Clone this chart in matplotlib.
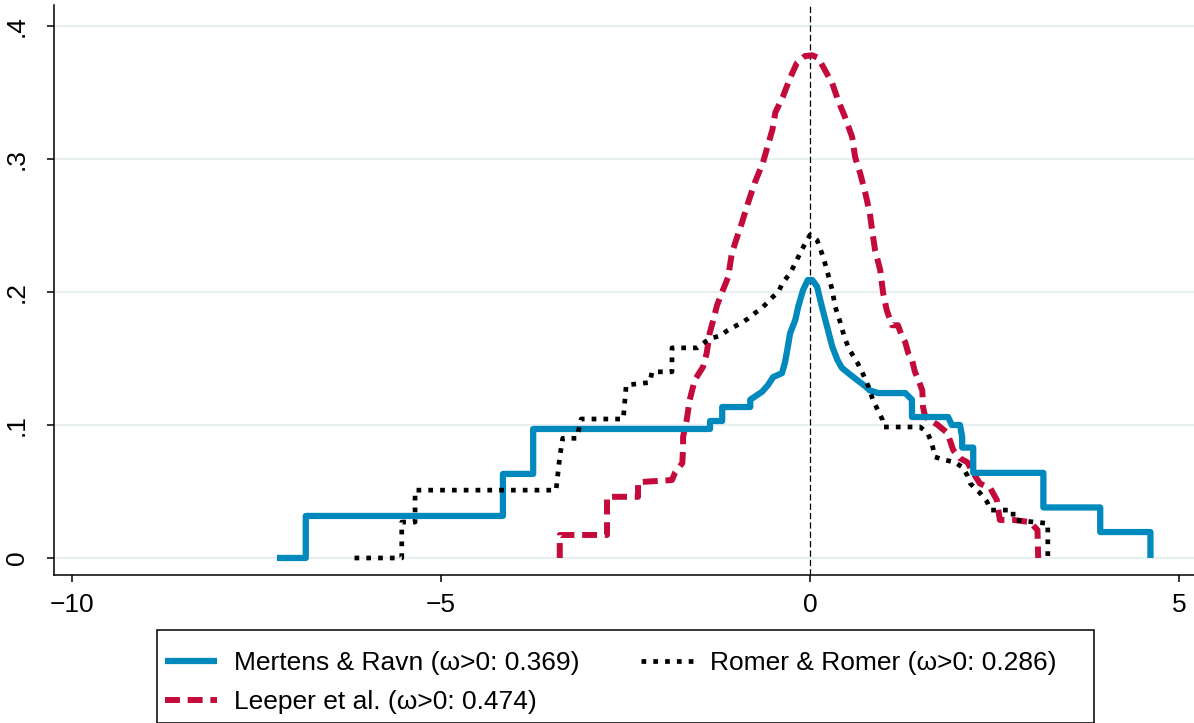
import numpy as np
import matplotlib
matplotlib.use("Agg")
import matplotlib.pyplot as plt
from matplotlib.patches import Rectangle

plt.rcParams['font.family'] = ['Liberation Sans', 'DejaVu Sans']

# Mertens & Ravn (step-like density)
mr_x = [-7.22, -6.83, -6.83, -4.16, -4.16, -3.75, -3.75, -1.355, -1.355, -1.19, -1.19,
        -0.81, -0.81, -0.65, -0.57, -0.50, -0.38, -0.34, -0.31, -0.27, -0.20, -0.16,
        -0.095, -0.03, 0.03, 0.095, 0.16, 0.23, 0.30, 0.37, 0.43, 0.54, 0.68, 0.75,
        0.81, 0.92, 1.29, 1.38, 1.38, 1.87, 1.92, 2.03, 2.06, 2.06, 2.21, 2.21,
        3.16, 3.16, 3.93, 3.93, 4.61, 4.61]
mr_y = [0.0, 0.0, 0.0316, 0.0316, 0.0632, 0.0632, 0.097, 0.097, 0.103, 0.103, 0.1135,
        0.1135, 0.119, 0.125, 0.130, 0.136, 0.139, 0.147, 0.156, 0.169, 0.179, 0.189,
        0.2015, 0.209, 0.209, 0.204, 0.189, 0.174, 0.159, 0.149, 0.143, 0.138, 0.132,
        0.129, 0.126, 0.124, 0.124, 0.119, 0.106, 0.106, 0.100, 0.100, 0.091, 0.083,
        0.083, 0.064, 0.064, 0.038, 0.038, 0.0195, 0.0195, 0.0]

# Romer & Romer
rr_x = [-6.17, -5.53, -5.53, -5.35, -5.35, -3.44, -3.39, -3.35, -3.16, -3.10, -2.53,
        -2.49, -2.17, -2.14, -1.87, -1.87, -1.53, -1.36, -1.22, -1.12, -0.99, -0.92,
        -0.84, -0.75, -0.65, -0.58, -0.51, -0.43, -0.37, -0.27, -0.18, -0.11, 0.0,
        0.095, 0.18, 0.24, 0.30, 0.34, 0.41, 0.47, 0.54, 0.64, 0.72, 0.79, 0.85,
        0.92, 0.98, 1.00, 1.49, 1.59, 1.65, 1.69, 1.80, 1.96, 2.07, 2.13, 2.17,
        2.30, 2.40, 2.44, 2.75, 2.75, 3.22, 3.22]
rr_y = [0.0, 0.0, 0.027, 0.027, 0.051, 0.051, 0.076, 0.090, 0.090, 0.1045, 0.1045,
        0.130, 0.132, 0.140, 0.140, 0.158, 0.158, 0.165, 0.167, 0.171, 0.175, 0.177,
        0.180, 0.184, 0.188, 0.192, 0.196, 0.200, 0.207, 0.214, 0.224, 0.232, 0.243,
        0.239, 0.226, 0.214, 0.2015, 0.189, 0.177, 0.165, 0.156, 0.147, 0.138, 0.129,
        0.119, 0.111, 0.104, 0.0985, 0.0985, 0.094, 0.0865, 0.076, 0.074, 0.072,
        0.068, 0.062, 0.056, 0.049, 0.042, 0.036, 0.036, 0.0286, 0.026, 0.0]

# Leeper et al.
lp_x = [-3.39, -3.39, -2.75, -2.75, -2.33, -2.33, -1.87, -1.83, -1.73, -1.72, -1.72,
        -1.67, -1.63, -1.56, -1.45, -1.40, -1.36, -1.31, -1.26, -1.18, -1.11, -1.06,
        -0.99, -0.92, -0.84, -0.75, -0.64, -0.57, -0.51, -0.47, -0.37, -0.27, -0.18,
        -0.07, 0.03, 0.11, 0.18, 0.30, 0.38, 0.47, 0.57, 0.61, 0.68, 0.75, 0.81,
        0.84, 0.88, 0.95, 0.99, 1.04, 1.11, 1.19, 1.25, 1.29, 1.33, 1.38, 1.42,
        1.46, 1.52, 1.53, 1.56, 1.73, 1.86, 1.94, 2.03, 2.13, 2.21, 2.30, 2.44,
        2.53, 2.57, 2.75, 2.98, 3.08, 3.09]
lp_y = [0.0, 0.0173, 0.0173, 0.046, 0.046, 0.057, 0.0586, 0.064, 0.0714, 0.083, 0.091,
        0.104, 0.119, 0.134, 0.1436, 0.154, 0.169, 0.179, 0.190, 0.2015, 0.211, 0.229,
        0.241, 0.2526, 0.267, 0.282, 0.297, 0.3105, 0.322, 0.335, 0.3466, 0.361, 0.372,
        0.3774, 0.378, 0.376, 0.369, 0.357, 0.344, 0.332, 0.3165, 0.3015, 0.289, 0.274,
        0.259, 0.2466, 0.2316, 0.2165, 0.199, 0.186, 0.175, 0.175, 0.166, 0.162, 0.154,
        0.149, 0.140, 0.135, 0.126, 0.1135, 0.106, 0.100, 0.094, 0.081, 0.075, 0.072,
        0.064, 0.056, 0.0526, 0.0436, 0.0286, 0.0286, 0.027, 0.021, 0.0]

labels = ['Mertens & Ravn (\u03c9>0: 0.369)', 'Romer & Romer (\u03c9>0: 0.286)',
          'Leeper et al. (\u03c9>0: 0.474)']
xticks = [-10, -5, 0, 5]
yticks = [0, 0.1, 0.2, 0.3, 0.4]
ytick_labels = ['0', '.1', '.2', '.3', '.4']

blue = '#0089BD'
red = '#C30A3A'

W, H = 1194, 723
fig = plt.figure(figsize=(W / 100, H / 100), dpi=100)
ax = fig.add_axes([54 / W, 1 - 575 / H, 1 - 54 / W, (575 - 5) / H])

ax.set_xlim(-10.24, 5.2)
ax.set_ylim(-0.0128, 0.4158)

for yv in yticks:
    ax.axhline(yv, color='#E8EFF1', lw=1.5, zorder=0)
ax.axvline(0, color='black', lw=0.9, dashes=(5, 2.5), zorder=1)

l1, = ax.plot(mr_x, mr_y, color=blue, lw=4.5, solid_joinstyle='round',
              solid_capstyle='butt', zorder=3)
l3, = ax.plot(lp_x, lp_y, color=red, lw=4.3, dashes=(2.5, 1.3),
              dash_capstyle='butt', zorder=2)
l2, = ax.plot(rr_x, rr_y, color='black', lw=3.4, dashes=(1.0, 1.5),
              dash_capstyle='butt', zorder=4)

ax.spines['top'].set_visible(False)
ax.spines['right'].set_visible(False)
ax.spines['left'].set_linewidth(1.1)
ax.spines['bottom'].set_linewidth(1.1)

ax.set_xticks(xticks)
ax.set_yticks(yticks)
ax.set_yticklabels(ytick_labels)
ax.tick_params(direction='out', length=5, width=1.1, labelsize=19)
ax.tick_params(axis='x', pad=8)
ax.tick_params(axis='y', pad=13)
plt.setp(ax.get_yticklabels(), rotation=90, va='center')

# legend frame (clipped at the bottom like the original)
fig.patches.append(Rectangle((157 / W, 0), (1094 - 157) / W, (H - 637) / H + 0.01,
                             transform=fig.transFigure, fill=False,
                             edgecolor='black', lw=1.1))
fig.legend([l1, l3, l2], [labels[0], labels[2], labels[1]], ncol=2, loc='upper left',
           bbox_to_anchor=(160 / W, 1 - 646 / H), frameon=False, fontsize=19,
           handlelength=1.95, handletextpad=0.65, columnspacing=2.35,
           labelspacing=0.55, borderpad=0.2, borderaxespad=0)

fig.savefig('out.png', dpi=100)
